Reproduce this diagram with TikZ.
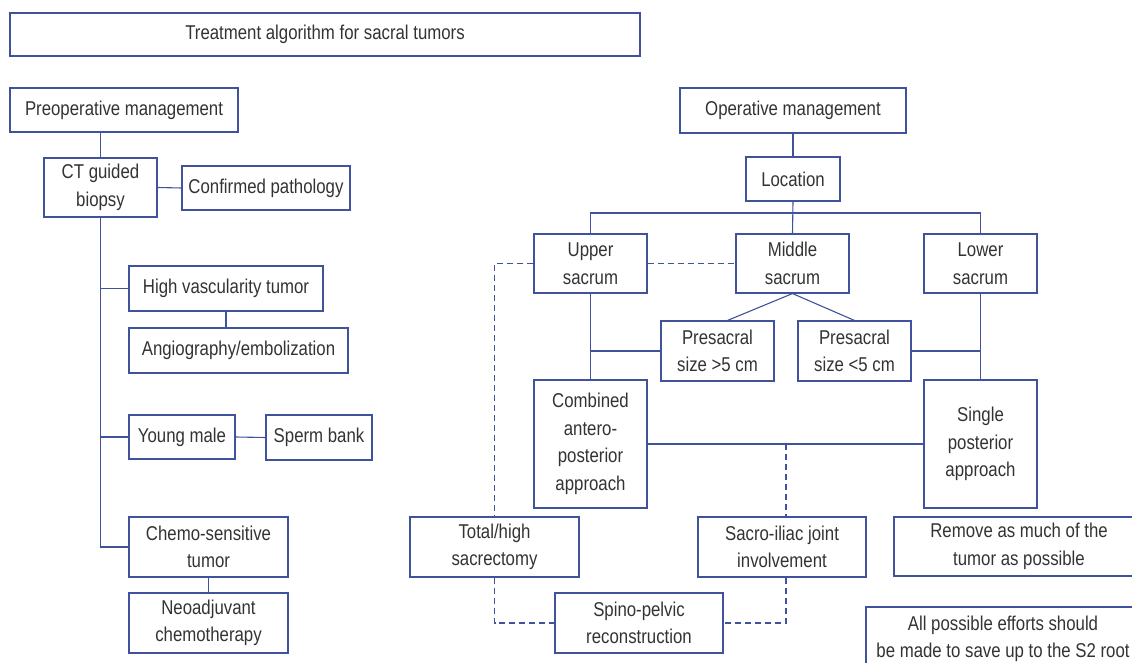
\documentclass[tikz,border=0pt]{standalone}
\usepackage{fontspec}
\setmainfont[FakeStretch=0.84]{Liberation Sans}
\usetikzlibrary{positioning}
\definecolor{sblue}{HTML}{40519E}
\definecolor{sgray}{HTML}{333333}

\begin{document}
\begin{tikzpicture}[x=1pt, y=-1pt,
  box/.style={draw=sblue, line width=1.1pt, text=sgray, align=center, inner sep=0pt,
    font=\fontsize{20}{27.5}\selectfont},
  sz/.style 2 args={minimum width=#1pt, minimum height=#2pt},
  link/.style={draw=sblue, line width=1.1pt},
  dlink/.style={link, dash pattern=on 6pt off 4pt}]
 \useasboundingbox (0,0) rectangle (1132,663);
 \node[box, sz={630}{43}] (title) at (325,34.5) {Treatment algorithm for sacral tumors};
 % preoperative side
 \node[box, sz={228}{44}] (preop) at (124,110) {Preoperative management};
 \node[box, sz={113}{59}] (ct) at (100.5,187.5) {CT guided\\biopsy};
 \node[box, sz={168}{44}] (path) at (266,188) {Confirmed pathology};
 \node[box, sz={194}{45}] (vasc) at (226,288.5) {High vascularity tumor};
 \node[box, sz={219}{45}] (angio) at (238.5,350.5) {Angiography/embolization};
 \node[box, sz={106}{44}] (young) at (182,437) {Young male};
 \node[box, sz={106}{45}] (sperm) at (319,437.5) {Sperm bank};
 \node[box, sz={159}{60}] (chemo) at (208.5,547) {Chemo-sensitive\\tumor};
 \node[box, sz={159}{60}] (neo) at (208.5,623) {Neoadjuvant\\chemotherapy};
 \draw[link] (ct.north) -- (ct.north |- preop.south);
 \draw[link] (ct.east) -- (path.west);
 \draw[link] (ct.south) |- (chemo.west);
 \draw[link] (ct.south |- vasc.west) -- (vasc.west);
 \draw[link] (ct.south |- young.west) -- (young.west);
 \draw[link] (vasc.south) -- (vasc.south |- angio.north);
 \draw[link] (young.east) -- (sperm.west);
 \draw[link] (chemo.south) -- (neo.north);
 % operative side
 \node[box, sz={226}{45}] (opman) at (793,110.5) {Operative management};
 \node[box, sz={94}{44}] (loc) at (793,179) {Location};
 \node[box, sz={113}{59}] (upper) at (590.5,263.5) {Upper\\sacrum};
 \node[box, sz={113}{59}] (middle) at (792.5,263.5) {Middle\\sacrum};
 \node[box, sz={113}{59}] (lower) at (980.5,263.5) {Lower\\sacrum};
 \node[box, sz={113}{60}] (big) at (717.5,351) {Presacral\\size >5 cm};
 \node[box, sz={113}{60}] (small) at (854.5,351) {Presacral\\size <5 cm};
 \node[box, sz={113}{128}] (comb) at (590.5,444) {Combined\\antero-\\posterior\\approach};
 \node[box, sz={113}{128}] (single) at (980.5,444) {Single\\posterior\\approach};
 \node[box, sz={169}{60}] (total) at (494.5,547) {Total/high\\sacrectomy};
 \node[box, sz={168}{60}] (sij) at (782,547) {Sacro-iliac joint\\involvement};
 \node[box, sz={168}{60}] (spino) at (639,623) {Spino-pelvic\\reconstruction};
 \node[box, sz={250}{59}] (remove) at (1019,546.5) {Remove as much of the\\tumor as possible};
 \node[box, sz={274}{64}] (effort) at (1003,639) {All possible efforts should\\be made to save up to the S2 root};
 \coordinate (bus) at (793,213);
 \draw[link] (opman.south) -- (loc.north);
 \draw[link] (loc.south) -- (middle.north);
 \draw[link] (upper.north) |- (bus) -| (lower.north);
 \draw[link] (middle.south) -- ([xshift=10]big.north);
 \draw[link] (middle.south) -- (small.north);
 \draw[link] (upper.south) -- (comb.north);
 \draw[link] (big.west) -- (big.west -| upper.south);
 \draw[link] (lower.south) -- (single.north);
 \draw[link] (small.east) -- (small.east -| lower.south);
 \draw[link] (comb.east) -- (single.west);
 \draw[dlink] (upper.west) -| (total.north);
 \draw[dlink] (upper.east) -- (middle.west);
 \draw[dlink] ([xshift=4]sij.north |- comb.east) -- ([xshift=4]sij.north);
 \draw[dlink] (total.south) |- (spino.west);
 \draw[dlink] ([xshift=4]sij.south) |- (spino.east);
\end{tikzpicture}
\end{document}
